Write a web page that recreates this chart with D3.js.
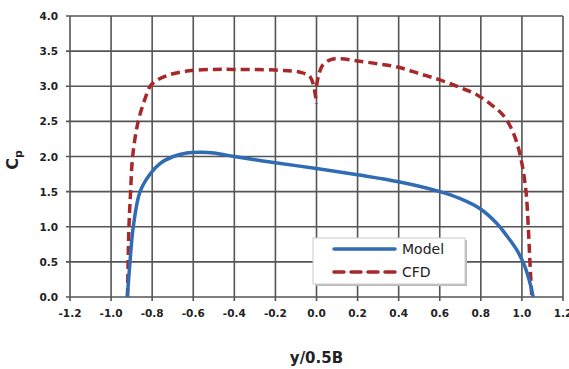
<!DOCTYPE html>
<html>
<head>
<meta charset="utf-8">
<script src="https://cdn.jsdelivr.net/npm/d3@7"></script>
<style>
  body { margin: 0; background: #fff; }
  svg { display: block; }
</style>
</head>
<body>
<div id="chart"></div>
<script>
// spanwise position y/0.5B and pressure coefficient
const modelX = [-0.921, -0.908, -0.892, -0.859, -0.81, -0.762, -0.697, -0.632, -0.56, -0.5, -0.4, -0.2, 0.0, 0.2, 0.4, 0.6, 0.7, 0.8, 0.877, 0.924, 0.975, 1.015, 1.04, 1.055];
const modelCp = [0.0, 0.5, 1.0, 1.5, 1.75, 1.9, 2.0, 2.05, 2.06, 2.05, 2.0, 1.91, 1.83, 1.74, 1.64, 1.5, 1.4, 1.25, 1.05, 0.88, 0.67, 0.43, 0.19, 0.0];
const cfdX = [-0.92, -0.917, -0.913, -0.905, -0.895, -0.868, -0.835, -0.81, -0.78, -0.72, -0.62, -0.5, -0.4, -0.2, -0.08, -0.03, 0.0];
const cfdCp = [0.0, 0.5, 1.0, 1.5, 2.0, 2.5, 2.82, 3.0, 3.08, 3.16, 3.22, 3.24, 3.24, 3.23, 3.2, 3.13, 2.75];
const cfd2X = [0.0, 0.01, 0.03, 0.07, 0.12, 0.2, 0.3, 0.4, 0.5, 0.6, 0.7, 0.78, 0.85, 0.905, 0.945, 0.975, 1.0, 1.02, 1.031, 1.039, 1.048];
const cfd2Cp = [3.0, 3.15, 3.3, 3.38, 3.39, 3.36, 3.32, 3.27, 3.18, 3.09, 2.98, 2.88, 2.74, 2.6, 2.42, 2.2, 1.9, 1.5, 1.0, 0.5, 0.0];
const xTicks = [-1.2, -1.0, -0.8, -0.6, -0.4, -0.2, 0.0, 0.2, 0.4, 0.6, 0.8, 1.0, 1.2];
const yTicks = [0, 0.5, 1.0, 1.5, 2.0, 2.5, 3.0, 3.5, 4.0];
const legendNames = ["Model", "CFD"];

const width = 569, height = 369;
const margin = { top: 16, right: 6, bottom: 72, left: 70 };
const blue = "#2f6cb3", red = "#a8282a";

const svg = d3.select("#chart").append("svg")
  .attr("width", width).attr("height", height);

const x = d3.scaleLinear().domain([-1.2, 1.2]).range([margin.left, width - margin.right]);
const y = d3.scaleLinear().domain([0, 4]).range([height - margin.bottom, margin.top]);

// grid
svg.append("g").selectAll("line").data(xTicks).enter().append("line")
  .attr("x1", d => x(d)).attr("x2", d => x(d))
  .attr("y1", y(4)).attr("y2", y(0) + 4)
  .attr("stroke", "#555").attr("stroke-width", 1.6);
svg.append("g").selectAll("line").data(yTicks).enter().append("line")
  .attr("x1", x(-1.2) - 4).attr("x2", x(1.2))
  .attr("y1", d => y(d)).attr("y2", d => y(d))
  .attr("stroke", "#555").attr("stroke-width", 1.6);

// tick labels
svg.append("g").selectAll("text").data(xTicks).enter().append("text")
  .attr("x", d => x(d)).attr("y", y(0) + 20)
  .attr("text-anchor", "middle")
  .style("font", "bold 10.5px 'DejaVu Sans'").style("fill", "#222")
  .text(d => d.toFixed(1));
svg.append("g").selectAll("text").data(yTicks).enter().append("text")
  .attr("x", x(-1.2) - 12).attr("y", d => y(d) + 4)
  .attr("text-anchor", "end")
  .style("font", "bold 10.5px 'DejaVu Sans'").style("fill", "#222")
  .text(d => d.toFixed(1));

// axis titles
svg.append("text")
  .attr("x", x(0)).attr("y", 363)
  .attr("text-anchor", "middle")
  .style("font", "bold 15px 'DejaVu Sans'").style("fill", "#222")
  .text("y/0.5B");
const cp = svg.append("text")
  .attr("transform", "translate(18, 160) rotate(-90)")
  .attr("text-anchor", "middle")
  .style("font", "bold 16px 'DejaVu Sans'").style("fill", "#222");
cp.append("tspan").text("C");
cp.append("tspan").attr("dy", 4).style("font-size", "11px").text("p");

// curves
const line = d3.line().x(d => x(d[0])).y(d => y(d[1])).curve(d3.curveCatmullRom.alpha(0.5));
const dash = "9,5";

svg.append("path").datum(d3.zip(cfdX, cfdCp)).attr("d", line)
  .attr("fill", "none").attr("stroke", red).attr("stroke-width", 3.5)
  .attr("stroke-dasharray", dash);
svg.append("path").datum(d3.zip(cfd2X, cfd2Cp)).attr("d", line)
  .attr("fill", "none").attr("stroke", red).attr("stroke-width", 3.5)
  .attr("stroke-dasharray", dash);
svg.append("path").datum(d3.zip(modelX, modelCp)).attr("d", line)
  .attr("fill", "none").attr("stroke", blue).attr("stroke-width", 3.5);

// legend
const lg = svg.append("g").attr("transform", "translate(313, 238)");
lg.append("rect").attr("x", 2).attr("y", 2).attr("width", 152).attr("height", 46)
  .attr("fill", "#bbb");
lg.append("rect").attr("width", 152).attr("height", 46)
  .attr("fill", "#fff").attr("stroke", "#ccc");
legendNames.forEach((name, i) => {
  const ly = 11 + i * 23;
  lg.append("line").attr("x1", 21).attr("x2", 82).attr("y1", ly).attr("y2", ly)
    .attr("stroke", i ? red : blue).attr("stroke-width", 3.5)
    .attr("stroke-dasharray", i ? "10,7" : null)
    .attr("stroke-linecap", "round");
  lg.append("text").attr("x", 89).attr("y", ly + 5)
    .style("font", "14px 'DejaVu Sans'").style("fill", "#222")
    .text(name);
});
</script>
</body>
</html>
